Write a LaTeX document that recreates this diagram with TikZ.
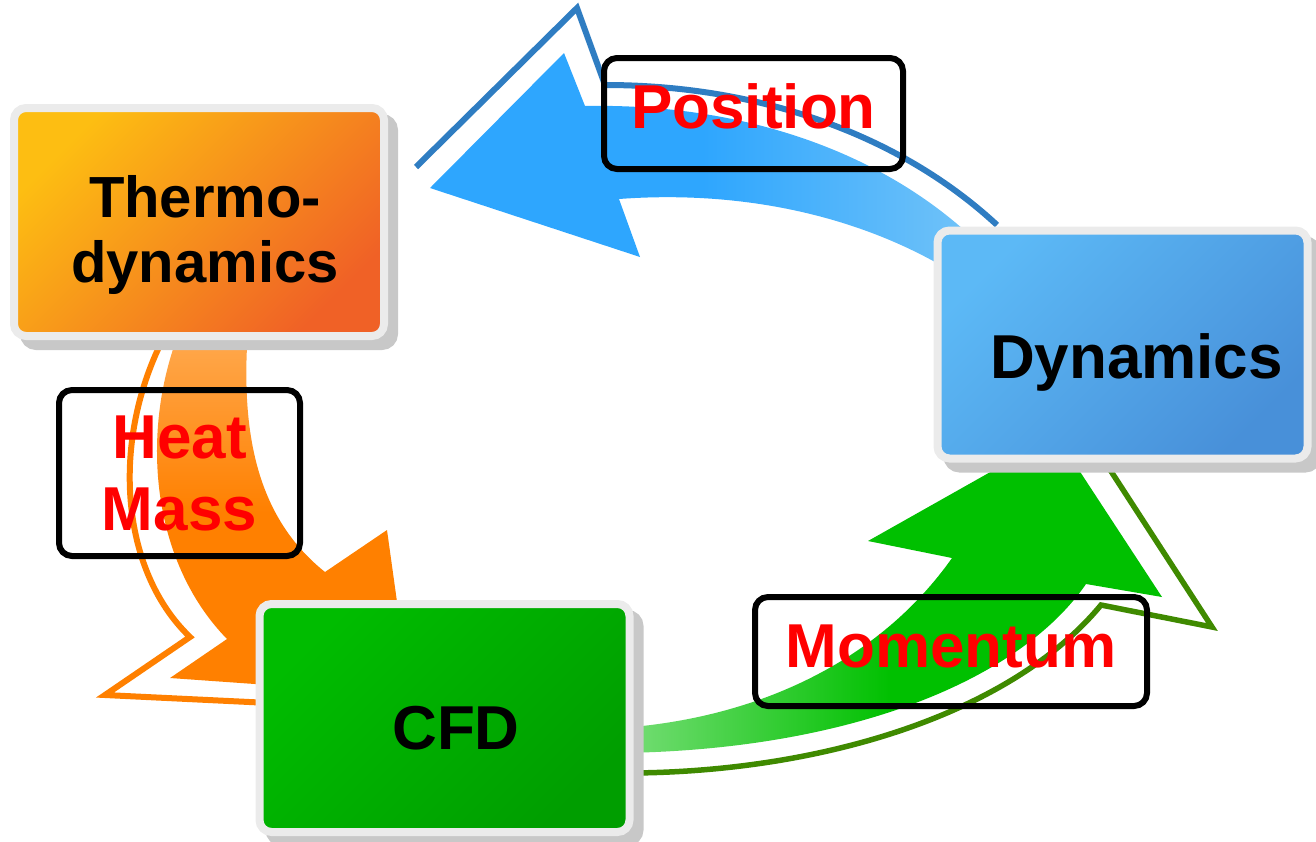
\documentclass[tikz,border=0pt]{standalone}
\usepackage{fontspec}
\setmainfont{Liberation Sans}
\usetikzlibrary{shadows}

\definecolor{bandblue}{HTML}{2EA6FE}
\definecolor{bandbluelt}{HTML}{72C3F8}
\definecolor{lineblue}{HTML}{2F7DC2}
\definecolor{bandorange}{HTML}{FF8000}
\definecolor{bandorangelt}{HTML}{FFAA50}
\definecolor{bandgreen}{HTML}{00C000}
\definecolor{bandgreenlt}{HTML}{78DE78}
\definecolor{linegreen}{HTML}{3F8A00}
\definecolor{framegray}{HTML}{EBEBEB}
\definecolor{shadegray}{HTML}{C8C8C8}
\definecolor{thermoA}{HTML}{FDBE12}
\definecolor{thermoB}{HTML}{F06126}
\definecolor{dynA}{HTML}{5CB9F6}
\definecolor{dynB}{HTML}{4890D9}
\definecolor{cfdA}{HTML}{00BC00}
\definecolor{cfdB}{HTML}{009E00}

\begin{document}
\begin{tikzpicture}[
        x=1pt, y=-1pt,
        card/.style={draw=framegray, line width=8, rounded corners=12,
            minimum width=370, minimum height=228,
            drop shadow={shadow xshift=10pt, shadow yshift=-10pt, fill=shadegray,
                draw=shadegray, line width=8pt, opacity=1}},
        cardtext/.style={font=\bfseries\fontsize{62}{65}\selectfont, anchor=base},
        tag/.style={draw=black, line width=6, rounded corners=13, text=red,
            font=\bfseries\fontsize{62}{72}\selectfont},
        rim/.style={line width=6, line join=miter},
    ]
    \useasboundingbox (0,0) rectangle (1316,841);

    % arrows
    \shade[left color=bandblue, right color=bandbluelt, middle color=bandblue]
        (585,106) .. controls (740,103) and (880,150) .. (975,240)
        -- (960,300) -- (935,262)
        .. controls (850,215) and (740,190) .. (619,199)
        -- (640,257) -- (430,188) -- (564,53) -- cycle;
    \draw[rim, lineblue] (416,167) -- (577,8) -- (605,85)
        .. controls (760,85) and (900,135) .. (997,225);

    \shade[top color=bandorangelt, bottom color=bandorange, middle color=bandorange]
        (180,330) .. controls (140,430) and (150,560) .. (227,639)
        -- (170,678) -- (410,695) -- (387,530) -- (325,572)
        .. controls (260,520) and (240,440) .. (248,330) -- cycle;
    \draw[rim, bandorange] (165,335) .. controls (110,440) and (120,570) .. (190,637)
        -- (105,695) -- (270,703);

    \shade[left color=bandgreenlt, right color=bandgreen, middle color=bandgreen]
        (620,728) .. controls (760,718) and (880,660) .. (952,558)
        -- (868,541) -- (1056,435) -- (1162,597) -- (1086,584)
        .. controls (1020,680) and (850,750) .. (620,753) -- cycle;
    \draw[rim, linegreen, line width=5.5] (630,773) .. controls (820,772) and (1010,715) .. (1101,605)
        -- (1212,627) -- (1105,462);

    % boxes
    \node[card, left color=thermoA, right color=thermoB, shading angle=45] (thermo) at (199,222) {};
    \node[card, left color=dynA, right color=dynB, shading angle=45] (dyn) at (1122.5,344.5) {};
    \node[card, left color=cfdA, right color=cfdB, shading angle=45] (cfd) at (444.5,718) {};

    \node[cardtext, align=center, font=\bfseries\fontsize{58}{65}\selectfont] (thermotxt) at (205,282) {Thermo-\\dynamics};
    \node[cardtext] (dyntxt) at (1136.5,378) {Dynamics};
    \node[cardtext] (cfdtxt) at (456,749) {CFD};

    % labels
    \node[tag, minimum width=299, minimum height=111, text height=44, text depth=15] (pos) at (753.5,113.5) {Position};
    \node[tag, align=center, minimum width=241, minimum height=166] (heat) at (179.5,473) {Heat\\Mass};
    \node[tag, minimum width=392, minimum height=109, text height=44, text depth=13] (mom) at (951,651.5) {Momentum};
\end{tikzpicture}
\end{document}
